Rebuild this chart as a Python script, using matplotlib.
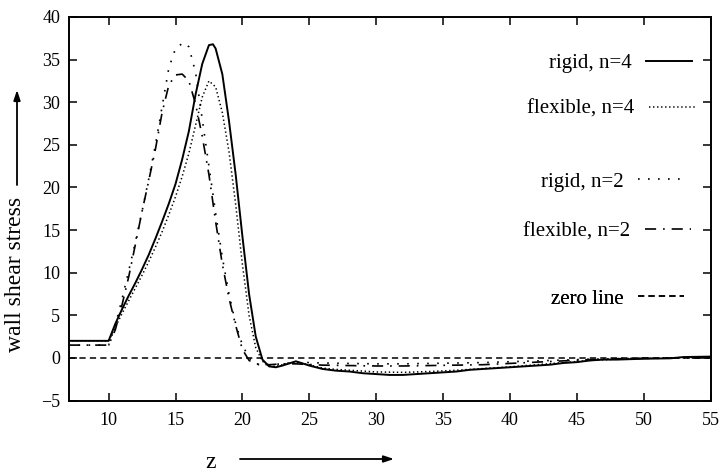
import matplotlib
matplotlib.use("Agg")
import matplotlib.pyplot as plt

plt.rcParams['font.family'] = ['Liberation Serif', 'DejaVu Serif']
plt.rcParams['lines.scale_dashes'] = False

# ---- data ----
z_rigid4 = [7, 10, 10.5, 11, 11.5, 12, 12.5, 13, 13.5, 14, 14.5, 15, 15.5, 16, 16.5, 17, 17.5, 17.8,
            18, 18.5, 19, 19.5, 20, 20.5, 21, 21.5, 22, 22.5, 23,
            24, 25, 26, 27, 28, 29, 30, 31, 32, 33, 34, 35, 36, 37, 38, 39, 40, 41, 42, 43, 44, 45, 46, 47, 48,
            50, 52, 53, 55]
v_rigid4 = [2, 2, 4.0, 5.7, 7.3, 8.8, 10.4, 12.1, 14.0, 16.0, 18.1, 20.4, 23.3, 26.6, 30.9, 34.5, 36.7, 36.8,
            36.3, 33.3, 27.8, 21.5, 14.3, 7.5, 2.5, -0.2, -1.0, -1.1, -0.9,
            -0.4, -0.9, -1.3, -1.5, -1.6, -1.8, -1.9, -2.0, -2.0, -1.9, -1.8, -1.7, -1.6, -1.4, -1.3, -1.2, -1.1,
            -1.0, -0.9, -0.8, -0.6, -0.5, -0.3, -0.2, -0.2,
            -0.1, -0.05, 0.1, 0.15]

z_flex4 = [7, 10, 10.5, 11, 11.5, 12, 12.5, 13, 13.5, 14, 14.5, 15, 15.5, 16, 16.5, 17, 17.5,
           18, 18.5, 19, 19.5, 20, 20.5, 21, 21.5, 22, 22.5, 23,
           24, 25, 26, 27, 28, 30, 32, 34, 36, 38, 40, 42, 44, 46, 48, 50, 55]
v_flex4 = [2, 2, 3.6, 5.2, 6.7, 8.2, 9.7, 11.3, 13.0, 14.8, 16.8, 18.9, 21.3, 24.0, 27.3, 30.6, 32.5,
           31.8, 28.8, 24.2, 18.0, 11.0, 5.0, 1.2, -0.4, -0.9, -1.0, -0.8,
           -0.5, -0.8, -1.2, -1.35, -1.45, -1.65, -1.7, -1.6, -1.45, -1.25, -1.05, -0.8, -0.55, -0.3, -0.15,
           -0.05, 0.1]

z_rigid2 = [7, 10, 10.5, 11, 11.5, 12, 12.5, 13, 13.5, 14, 14.5, 15, 15.6,
            16, 16.5, 17, 17.5, 18, 18.5, 19, 19.5, 20, 20.5, 21, 21.5, 22,
            23, 24, 26, 28, 30, 32, 34, 36, 38, 40, 42, 44, 46, 48, 50, 55]
v_rigid2 = [1.5, 1.5, 3.8, 6.9, 10.2, 13.6, 17.2, 21.0, 25.0, 29.5, 34.0, 36.3, 37.0,
            36.5, 33.5, 28.0, 22.5, 17.0, 11.8, 7.5, 4.0, 1.5, 0.0, -0.7, -0.9, -0.8,
            -0.7, -0.5, -0.6, -0.65, -0.7, -0.7, -0.65, -0.6, -0.55, -0.45, -0.35, -0.25, -0.15, -0.1,
            -0.05, 0]

z_flex2 = [7, 10, 10.5, 11, 11.5, 12, 12.5, 13, 13.5, 14, 14.5, 15, 15.5, 16, 16.5, 17, 17.5, 18, 18.5,
           19, 19.5, 20, 20.5, 21, 22, 23, 24, 26, 28, 30, 32, 34, 36, 38, 40, 42, 44, 46, 48, 50, 55]
v_flex2 = [1.5, 1.5, 3.3, 6.2, 9.5, 13.3, 17.2, 20.8, 24.5, 28.8, 32.0, 33.2, 33.3, 32.5, 29.8, 26.0, 21.5,
           16.0, 11.0, 7.0, 3.8, 1.0, -0.3, -0.7, -0.8, -0.7, -0.7, -0.85, -0.9, -0.95, -0.95, -0.9, -0.85,
           -0.8, -0.65, -0.5, -0.35, -0.2, -0.1, -0.05, 0]

z_zero = [7, 55]
v_zero = [0, 0]

labels = ['rigid, n=4', 'flexible, n=4', 'rigid, n=2', 'flexible, n=2', 'zero line']
x_ticks = [10, 15, 20, 25, 30, 35, 40, 45, 50, 55]
y_ticks = [-5, 0, 5, 10, 15, 20, 25, 30, 35, 40]

# ---- figure ----
W, H = 723, 474
fig = plt.figure(figsize=(W / 100, H / 100), dpi=100)
L, R, T, B = 68.5, 710.5, 17, 400.5
ax = fig.add_axes([L / W, 1 - B / H, (R - L) / W, (B - T) / H])

k = 'black'
l1, = ax.plot(z_rigid4, v_rigid4, color=k, lw=1.4, ls='-')
l2, = ax.plot(z_flex4, v_flex4, color=k, lw=1.1, ls=(0, (1.0, 1.9)))
l3, = ax.plot(z_rigid2, v_rigid2, color=k, lw=1.2, ls=(0, (1.2, 6.0)))
l4, = ax.plot(z_flex2, v_flex2, color=k, lw=1.2, ls=(0, (8, 5, 1.2, 5)))
l5, = ax.plot(z_zero, v_zero, color=k, lw=1.1, ls=(0, (4.5, 3)))

ax.set_xlim(7, 55)
ax.set_ylim(-5, 40)
ax.set_xticks(x_ticks)
ax.set_yticks(y_ticks)
ax.tick_params(direction='in', length=6, width=1.1, top=True, right=True,
               labelsize=13, colors='black')
ax.tick_params(axis='x', pad=8)
ax.tick_params(axis='y', pad=6)
for s in ax.spines.values():
    s.set_linewidth(1.4)

# legend entries (separate, irregular spacing as in reference)
handles = [l1, l2, l3, l4, l5]
ycent = [63, 109, 182, 232, 299]
xright = [692, 695, 684, 691, 684]
for h, lab, yc, xr in zip(handles, labels, ycent, xright):
    lg = ax.legend([h], [lab], loc='center right',
                   bbox_to_anchor=((xr - L) / (R - L), (B - yc) / (B - T)),
                   frameon=False, markerfirst=False, fontsize=15,
                   handlelength=2.2, handletextpad=0.7, borderpad=0, borderaxespad=0)
    ax.add_artist(lg)

# axis labels with arrows
fig.text(16 / W, 1 - 274 / H, 'wall shear stress', rotation=90, ha='center', va='center', fontsize=17)
fig.text(211 / W, 1 - 462 / H, 'z', ha='center', va='center', fontsize=17)
fig.patches  # noqa
ax.annotate('', xy=(17 / W, 1 - 90 / H), xytext=(17 / W, 1 - 185 / H), xycoords='figure fraction',
            textcoords='figure fraction',
            arrowprops=dict(arrowstyle='-|>,head_length=0.6,head_width=0.2', color='black', lw=1.3,
                            shrinkA=0, shrinkB=0))
ax.annotate('', xy=(394 / W, 1 - 459 / H), xytext=(240 / W, 1 - 459 / H), xycoords='figure fraction',
            textcoords='figure fraction',
            arrowprops=dict(arrowstyle='-|>,head_length=0.6,head_width=0.2', color='black', lw=1.3,
                            shrinkA=0, shrinkB=0))

fig.savefig('out.png', dpi=100)
